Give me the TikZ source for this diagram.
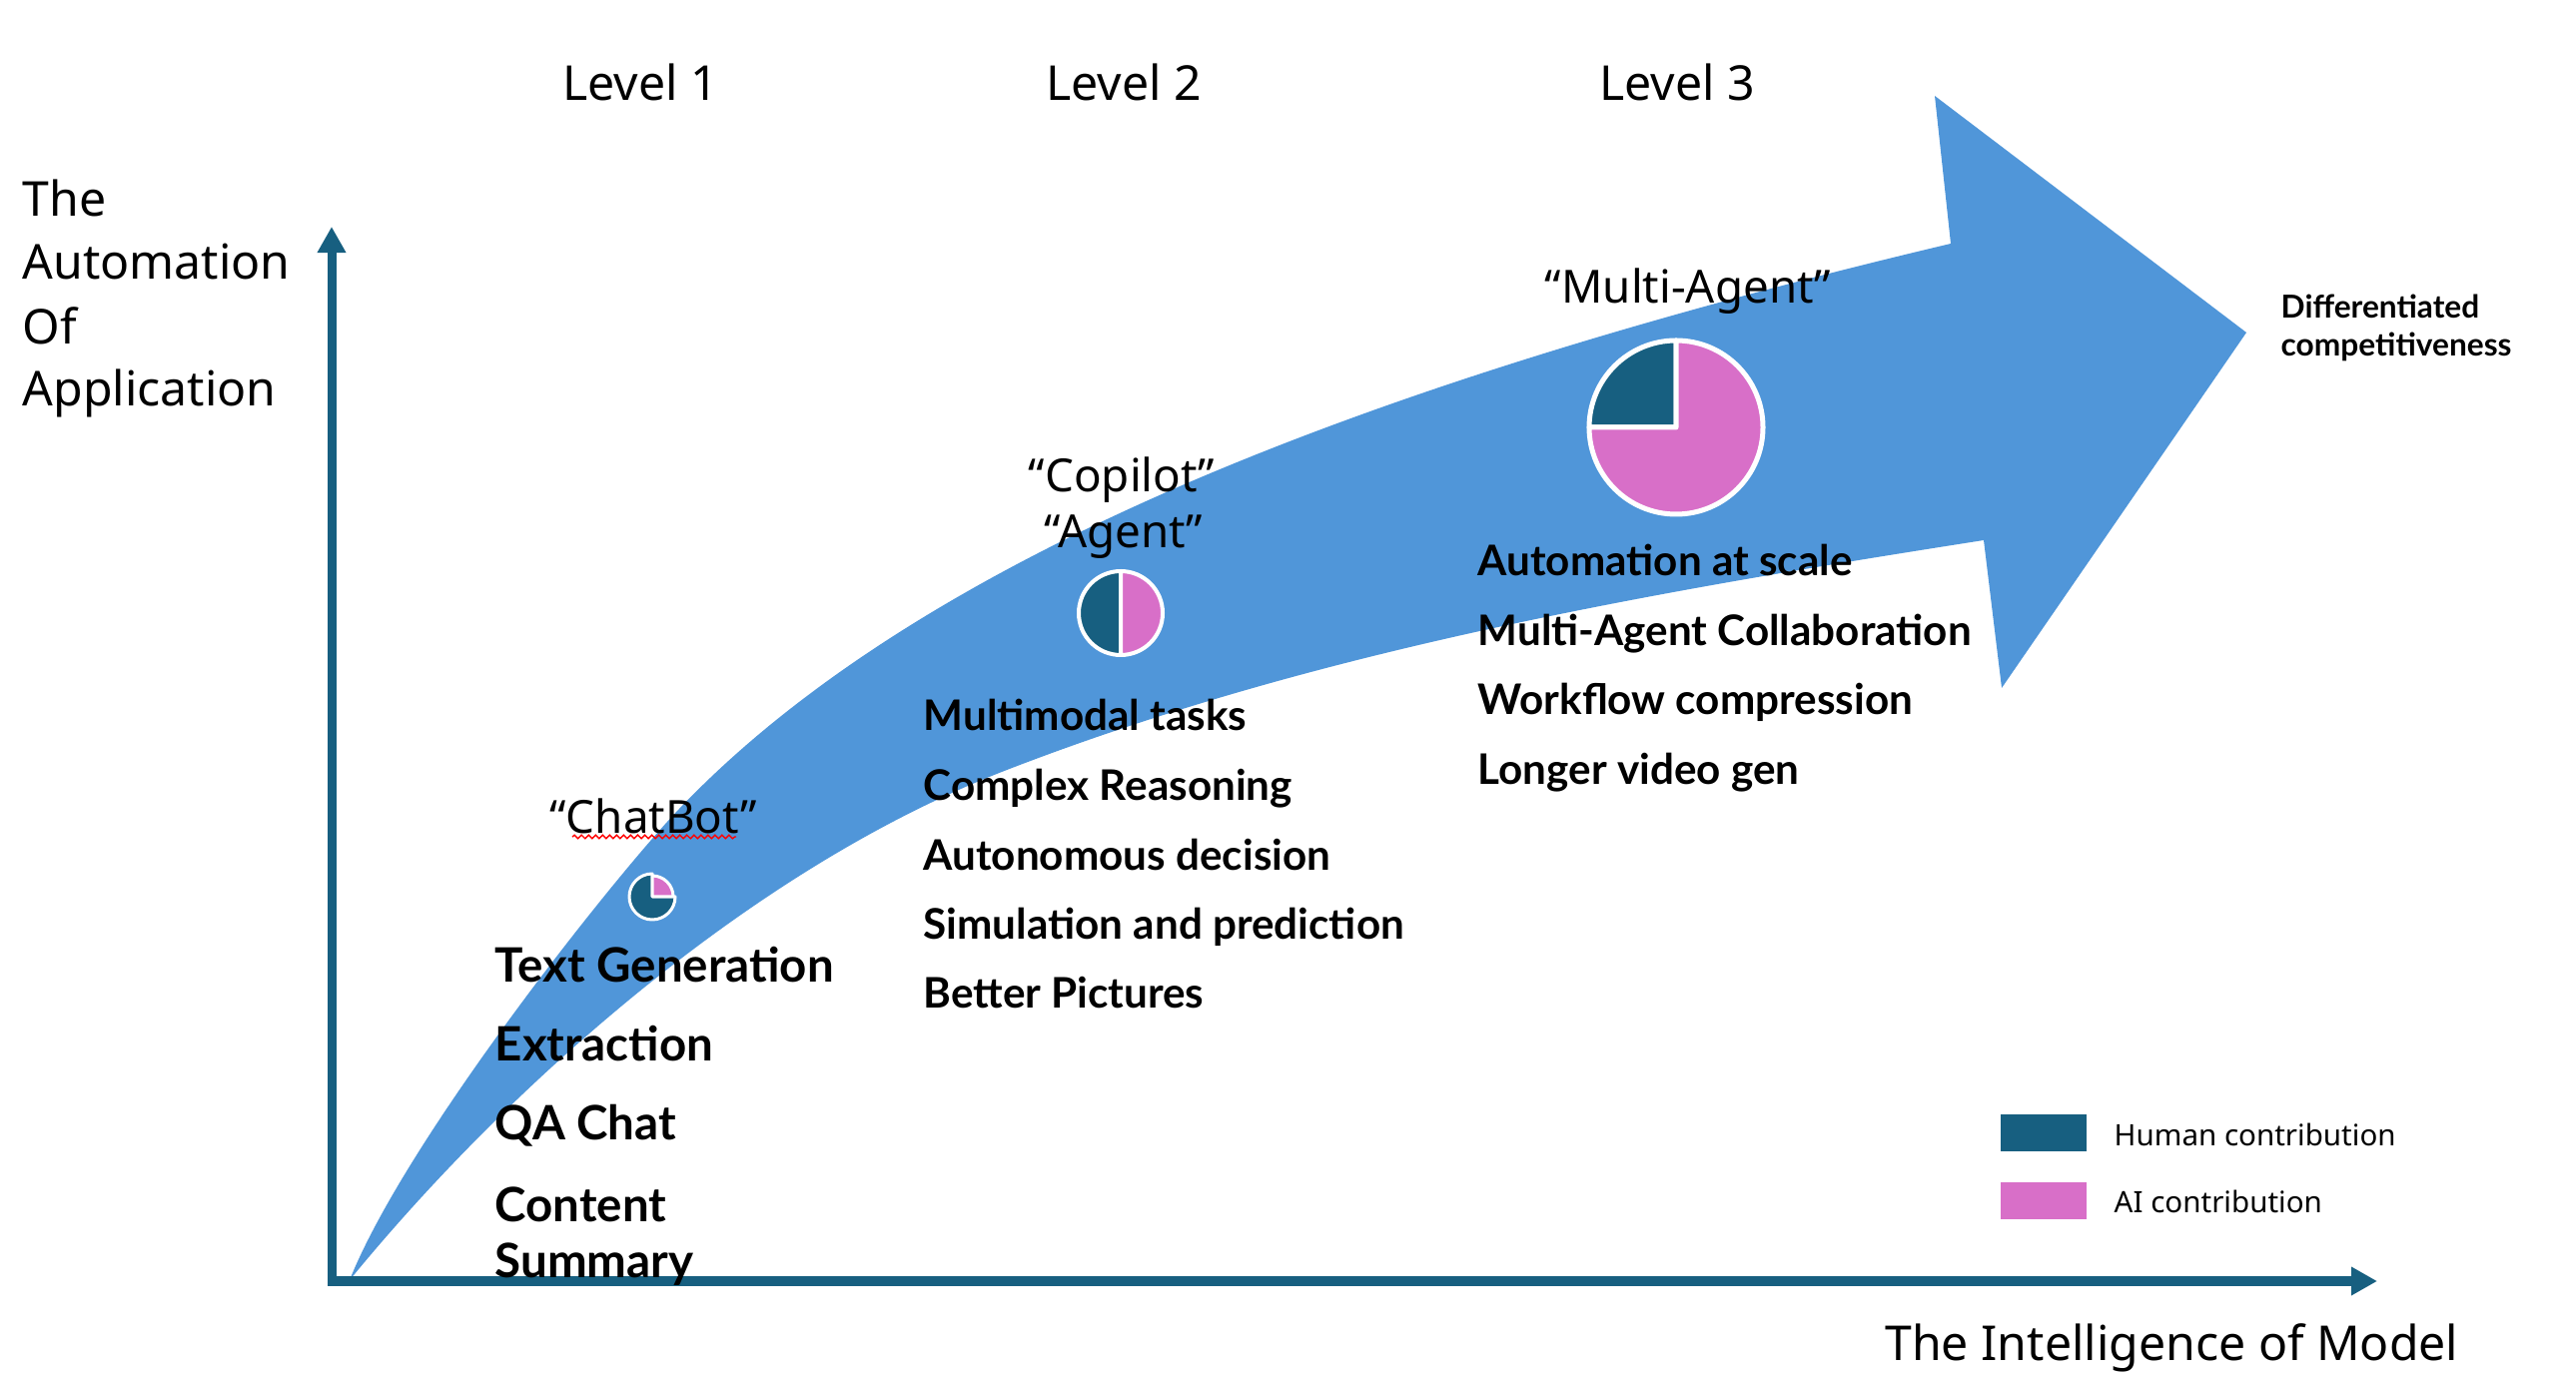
\documentclass[tikz,border=0pt]{standalone}
\usepackage{fontspec}
\setmainfont{Noto Sans}
\newfontfamily\listfont{Lato}
\usetikzlibrary{arrows.meta,decorations.pathmorphing}
\definecolor{bandblue}{RGB}{80,150,217}
\definecolor{human}{RGB}{23,95,128}
\definecolor{aicol}{RGB}{216,111,200}

\begin{document}
\begin{tikzpicture}[x=0.01cm,y=-0.01cm,
  big/.style={inner sep=0pt, font=\fontsize{13.7}{16}\selectfont},
  quote/.style={inner sep=0pt, anchor=base, font=\fontsize{13}{16}\selectfont},
  itemA/.style={inner sep=0pt, anchor=base west, font=\listfont\bfseries\fontsize{13.5}{16}\selectfont},
  itemB/.style={inner sep=0pt, anchor=base west, font=\listfont\bfseries\fontsize{12}{14}\selectfont},
  goal/.style={inner sep=0pt, anchor=base west, font=\listfont\bfseries\fontsize{9}{11}\selectfont},
  legbox/.style={inner sep=0pt, minimum width=0.86cm, minimum height=0.37cm},
  legtext/.style={inner sep=0pt, anchor=base west, font=\fontsize{8.4}{10}\selectfont},
  axis/.style={human, line width=0.09cm,
    {Triangle[length=0.26cm,width=0.27cm]}-{Triangle[length=0.26cm,width=0.27cm]}},
  wedge/.style={draw=white, line join=round}
]
\useasboundingbox (0,0) rectangle (2579,1380);

% curved growth arrow
\fill[bandblue]
  (350,1282) .. controls (405.5,1142.5) and (611,882.6) .. (680,810)
  .. controls (921.5,556.6) and (1371,382) .. (1953,244)
  -- (1937,96) -- (2249,333) -- (2004,689) -- (1986,541)
  .. controls (1653,593.2) and (1317,650.7) .. (1003,773)
  .. controls (749.7,871.7) and (506,1091.2) .. (350,1282)
  -- cycle;

% axes
\coordinate (origin) at (332,1283);
\coordinate (ytip) at (332,227);
\coordinate (xtip) at (2380,1283);
\draw[axis] (ytip) -- (origin) -- (xtip);

% axis titles
\node[big, anchor=base west] (ya) at (22,217) {The};
\node[big, anchor=base west] (yb) at (22,280) {Automation};
\node[big, anchor=base west] (yc) at (22,345) {Of};
\node[big, anchor=base west] (yd) at (22,407) {Application};
\node[big, anchor=base east] (xl) at (2462,1362) {The Intelligence of Model};

% level headings
\node[big, anchor=base] (lv1) at (641,101) {Level 1};
\node[big, anchor=base] (lv2) at (1125,101) {Level 2};
\node[big, anchor=base] (lv3) at (1679,101) {Level 3};

% stage names
\node[quote] (chat) at (654,835) {“ChatBot”};
\draw[red, line width=0.4pt, decorate, decoration={snake, amplitude=0.5pt, segment length=2pt}] (573,838) -- (737,838);
\node[quote] (copilot) at (1123,493) {“Copilot”};
\node[quote] (agent) at (1125,549) {“Agent”};
\node[quote] (multi) at (1690,304) {“Multi-Agent”};

% pies: human share vs AI share
\coordinate (p1) at (653,898);
\filldraw[wedge, fill=human, line width=0.03cm] (p1) -- ++(0:23) arc[start angle=0, end angle=270, radius=23] -- cycle;
\filldraw[wedge, fill=aicol, line width=0.03cm] (p1) -- ++(270:21) arc[start angle=270, end angle=360, radius=21] -- cycle;

\coordinate (p2) at (1122,614);
\filldraw[wedge, fill=human, line width=0.04cm] (p2) -- ++(90:42) arc[start angle=90, end angle=270, radius=42] -- cycle;
\filldraw[wedge, fill=aicol, line width=0.04cm] (p2) -- ++(-90:42) arc[start angle=-90, end angle=90, radius=42] -- cycle;

\coordinate (p3) at (1678,428);
\filldraw[wedge, fill=human, line width=0.05cm] (p3) -- ++(180:87) arc[start angle=180, end angle=270, radius=87] -- cycle;
\filldraw[wedge, fill=aicol, line width=0.05cm] (p3) -- ++(270:87) arc[start angle=270, end angle=540, radius=87] -- cycle;

% level 1 capabilities
\node[itemA] (t1) at (495,984) {Text Generation};
\node[itemA] (t2) at (495,1063) {Extraction};
\node[itemA] (t3) at (495,1142) {QA Chat};
\node[itemA] (t4) at (495,1223) {Content};
\node[itemA] (t5) at (495,1279) {Summary};

% level 2 capabilities
\node[itemB] (m1) at (924,732) {Multimodal tasks};
\node[itemB] (m2) at (924,802) {Complex Reasoning};
\node[itemB] (m3) at (924,872) {Autonomous decision};
\node[itemB] (m4) at (924,941) {Simulation and prediction};
\node[itemB] (m5) at (924,1010) {Better Pictures};

% level 3 capabilities
\node[itemB] (a1) at (1479,577) {Automation at scale};
\node[itemB] (a2) at (1479,647) {Multi-Agent Collaboration};
\node[itemB] (a3) at (1479,716) {Workflow compression};
\node[itemB] (a4) at (1479,786) {Longer video gen};

% destination
\node[goal] (g1) at (2283,319) {Differentiated};
\node[goal] (g2) at (2283,357) {competitiveness};

% legend
\node[legbox, fill=human] (hbox) at (2046,1134.5) {};
\node[legbox, fill=aicol] (abox) at (2046,1202.5) {};
\node[legtext] (htext) at (2116,1148) {Human contribution};
\node[legtext] (atext) at (2116,1214) {AI contribution};
\end{tikzpicture}
\end{document}
